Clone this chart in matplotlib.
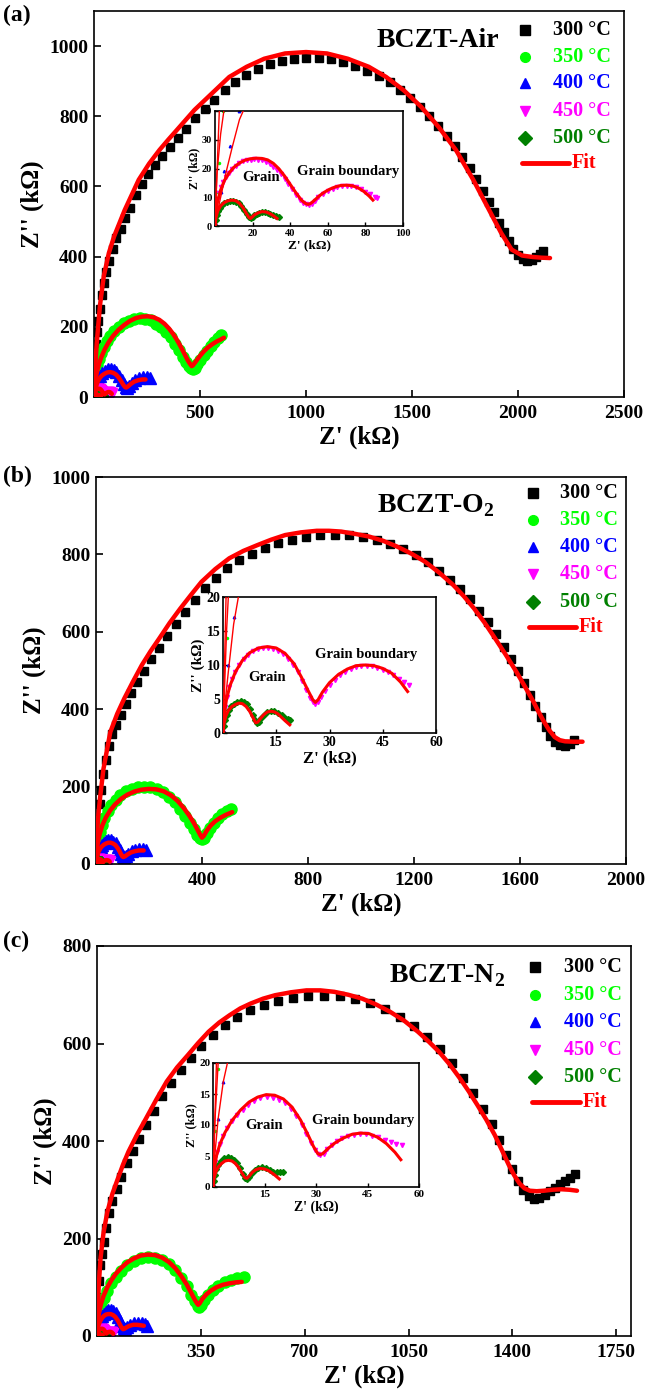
import numpy as np
import matplotlib.pyplot as plt
from matplotlib.lines import Line2D

plt.rcParams['font.family'] = ['Liberation Serif', 'DejaVu Serif']
plt.rcParams['font.weight'] = 'bold'
plt.rcParams['mathtext.fontset'] = 'custom'
plt.rcParams['mathtext.rm'] = 'Liberation Serif:bold'
plt.rcParams['mathtext.bf'] = 'Liberation Serif:bold'
plt.rcParams['axes.linewidth'] = 1.2

temps = ['300 °C', '350 °C', '400 °C', '450 °C', '500 °C']
colors = ['black', '#00ff00', '#0000ff', '#ff00ff', '#008000']
markers = ['s', 'o', '^', 'v', 'D']

# ---------- (a) BCZT-Air : (Z', Z'') in kOhm ----------
a300 = [(0, 0), (2, 55), (5, 110), (9, 150), (14, 185), (20, 218), (27, 250), (36, 290), (46, 325), (58, 355),
        (72, 388), (88, 422), (106, 452), (126, 480), (148, 510), (172, 540), (198, 575), (226, 606), (256, 635),
        (288, 660), (322, 687), (358, 712), (396, 738), (436, 765), (478, 794), (522, 820), (568, 847), (616, 874),
        (666, 898), (718, 918), (772, 935), (828, 948), (886, 958), (944, 964), (1002, 966), (1060, 966),
        (1118, 962), (1176, 955), (1232, 944), (1288, 930), (1342, 915), (1394, 897), (1444, 876), (1492, 852),
        (1538, 826), (1582, 800), (1624, 773), (1664, 744), (1702, 714), (1738, 684), (1772, 652), (1804, 620),
        (1834, 588), (1862, 556), (1888, 526), (1912, 497), (1934, 470), (1956, 445), (1978, 422), (2000, 405),
        (2022, 393), (2044, 387), (2066, 390), (2086, 398), (2104, 407), (2118, 416)]
a300_fit = [(0, 0), (4, 70), (13, 154), (28, 260), (46, 344), (70, 410), (95, 458), (145, 533), (211, 619),
            (260, 665), (309, 704), (350, 733), (391, 761), (474, 818), (556, 865), (638, 912), (720, 941),
            (803, 964), (901, 979), (1000, 983), (1099, 979), (1197, 964), (1296, 941), (1378, 912), (1461, 874),
            (1543, 827), (1625, 770), (1707, 704), (1789, 619), (1855, 543), (1921, 467), (1970, 420),
            (2020, 403), (2069, 399), (2110, 397), (2151, 396)]
a350 = [(0, 0), (1, 12), (2, 22), (4, 40), (7, 58), (11, 75), (16, 92), (23, 108), (33, 125), (45, 142),
        (60, 159), (77, 175), (96, 189), (117, 200), (140, 210), (164, 218), (189, 222), (215, 224), (241, 223),
        (267, 219), (292, 209), (316, 199), (339, 186), (361, 170), (382, 152), (401, 133), (418, 115), (433, 99),
        (446, 88), (457, 82), (466, 80), (476, 84), (488, 94), (502, 106), (518, 119), (535, 132), (552, 145),
        (568, 157), (583, 167), (597, 176)]
a350_fit = [(0, 0), (1, 18), (3, 32), (6, 46), (10, 60), (16, 77), (24, 95), (35, 114), (50, 135), (68, 155),
            (90, 174), (115, 191), (142, 205), (170, 217), (198, 225), (226, 229), (254, 230), (282, 227),
            (308, 220), (332, 209), (354, 195), (373, 180), (390, 164), (405, 148), (418, 133), (430, 119),
            (441, 106), (450, 97), (457, 91), (461, 88), (466, 90), (474, 96), (486, 106), (501, 118), (518, 130),
            (537, 141), (557, 150), (578, 158), (598, 164), (613, 169)]
a400 = [(0, 0), (1, 5), (3, 12), (5, 19), (8, 28), (13, 40), (19, 50), (27, 59), (37, 67), (50, 75), (64, 79),
        (78, 80), (92, 77), (106, 71), (119, 61), (131, 49), (141, 37), (149, 28), (157, 26), (167, 31), (180, 40),
        (195, 48), (212, 54), (230, 57), (248, 57), (265, 54)]
a400_fit = [(0, 0), (1, 4), (3, 10), (6, 19), (9, 27), (13, 37), (19, 46), (27, 54), (37, 61), (49, 66), (62, 70),
            (76, 71), (90, 69), (104, 64), (117, 55), (129, 44), (139, 34), (147, 28), (152, 27), (160, 30),
            (173, 37), (190, 44), (210, 48), (228, 50), (243, 50)]
a450 = [(0, 0), (0.3, 3), (0.7, 6), (1.3, 9), (2, 11.5), (3, 13.5), (4.2, 15.3), (5.6, 17), (7.2, 18.5), (9, 19.8),
        (11, 21), (13, 21.9), (15, 22.5), (17, 22.9), (19, 23.1), (21, 23.2), (23, 23.1), (25, 22.8), (27, 22.3),
        (29, 21.6), (31, 20.6), (33, 19.4), (35, 18), (37, 16.4), (39, 14.6), (41, 12.7), (43, 10.8), (45, 9.2),
        (47, 8), (48.5, 7.5), (50, 7.4), (51.5, 7.8), (53, 8.8), (55, 10), (57.5, 11.3), (60, 12.3), (62.5, 13),
        (65, 13.5), (67.5, 13.8), (70, 13.9), (72.5, 13.8), (75, 13.4), (77.5, 12.8), (80, 12), (82.5, 11.1),
        (85, 10.2), (86, 9.8)]
a450_fit = [(0, 0), (0.5, 5), (1.5, 9), (3, 12.5), (5, 15.8), (7.5, 18.5), (10, 20.4), (13, 21.9), (16, 22.9),
            (19, 23.4), (22, 23.6), (25, 23.5), (28, 23), (31, 21.8), (34, 19.9), (37, 17.4), (40, 14.5),
            (43, 11.6), (46, 9), (48, 7.9), (49.5, 7.5), (51, 7.9), (53, 9), (55.5, 10.5), (58, 11.7), (61, 12.8),
            (64, 13.6), (67, 14.1), (70, 14.2), (73, 14), (76, 13.3), (79, 12.1), (82, 10.4), (84, 9)]
a500 = [(0, 0), (0.3, 2), (0.8, 3.8), (1.5, 5.2), (2.5, 6.4), (3.7, 7.3), (5, 8), (6.5, 8.5), (8, 8.7), (9.5, 8.7),
        (11, 8.5), (12.5, 7.9), (14, 6.9), (15.5, 5.6), (17, 4.1), (18.2, 3.1), (19, 2.8), (20, 3.1), (21, 3.7),
        (22.2, 4.2), (23.5, 4.6), (25, 4.8), (26.5, 4.8), (28, 4.6), (29.5, 4.2), (31, 3.8), (32.5, 3.4), (34, 3.1)]
a500_fit = [(0, 0), (0.5, 3), (1.5, 5.3), (3, 7), (5, 8.2), (7, 8.8), (9, 9), (11, 8.8), (13, 7.9), (15, 6.3),
            (16.8, 4.2), (18, 3), (18.8, 2.6), (19.6, 3), (21, 3.9), (23, 4.6), (25, 5), (27, 4.9), (29, 4.4),
            (31, 3.6), (33, 2.6)]

# ---------- (b) BCZT-O2 ----------
b300 = [(0, 0), (2, 45), (5, 80), (9, 115), (14, 155), (20, 190), (28, 232), (37, 270), (48, 305), (61, 335),
        (76, 360), (93, 385), (112, 414), (133, 442), (156, 471), (181, 500), (208, 529), (237, 558), (268, 590),
        (301, 621), (336, 652), (373, 683), (412, 713), (453, 740), (496, 764), (541, 785), (588, 802), (637, 816),
        (688, 829), (740, 838), (793, 845), (847, 849), (901, 850), (955, 849), (1008, 845), (1060, 838),
        (1111, 826), (1160, 813), (1207, 798), (1252, 780), (1295, 758), (1336, 735), (1375, 710), (1412, 684),
        (1447, 655), (1480, 625), (1511, 594), (1540, 562), (1567, 530), (1592, 498), (1615, 467), (1637, 437),
        (1658, 408), (1678, 380), (1697, 354), (1715, 332), (1733, 315), (1751, 307), (1769, 306), (1787, 311),
        (1803, 320)]
b300_fit = [(0, 0), (3, 70), (8, 120), (15, 169), (28, 245), (54, 341), (80, 388), (107, 428), (140, 472),
            (173, 514), (206, 550), (239, 583), (278, 623), (318, 660), (358, 695), (398, 729), (450, 762),
            (503, 790), (556, 809), (609, 824), (661, 838), (714, 850), (774, 857), (833, 861), (879, 861),
            (925, 859), (978, 853), (1031, 846), (1084, 835), (1137, 820), (1190, 802), (1242, 781), (1295, 753),
            (1348, 721), (1388, 692), (1427, 660), (1467, 623), (1506, 583), (1546, 541), (1586, 497), (1619, 458),
            (1651, 419), (1671, 392), (1691, 367), (1711, 345), (1731, 328), (1750, 320), (1770, 317), (1803, 316),
            (1836, 316)]
b350 = [(0, 0), (1, 14), (2, 26), (4, 42), (8, 62), (14, 82), (22, 102), (32, 120), (44, 137), (58, 152),
        (74, 166), (92, 178), (112, 188), (134, 195), (157, 199), (181, 200), (205, 199), (229, 194), (253, 186),
        (276, 174), (298, 159), (318, 142), (337, 124), (354, 106), (369, 90), (382, 76), (392, 67), (400, 64),
        (408, 68), (418, 80), (430, 94), (444, 107), (460, 118), (477, 128), (494, 136), (510, 143)]
b350_fit = [(0, 0), (1, 15), (3, 35), (7, 55), (14, 78), (24, 100), (37, 120), (53, 138), (72, 154), (94, 168),
            (118, 179), (144, 187), (171, 192), (199, 194), (227, 193), (255, 188), (282, 178), (308, 163),
            (332, 144), (353, 124), (371, 104), (385, 86), (395, 73), (400, 68), (407, 73), (418, 86), (432, 99),
            (449, 110), (468, 119), (490, 127), (514, 134)]
b400 = [(0, 0), (0.5, 4), (1.5, 10), (3, 17), (5, 24), (8, 31), (12, 38), (17, 44), (23, 50), (30, 55), (38, 59),
        (47, 61), (56, 61), (65, 58), (74, 53), (82, 45), (89, 36), (95, 27), (100, 20), (105, 17), (112, 20),
        (122, 27), (134, 33), (148, 37), (163, 40), (178, 40), (190, 37)]
b400_fit = [(0, 0), (0.5, 4), (1.5, 9), (3, 16), (5, 22), (8, 29), (12, 35), (17, 41), (23, 46), (30, 50),
            (38, 53), (46, 55), (55, 55), (64, 53), (73, 49), (81, 42), (88, 34), (94, 26), (99, 20), (103, 18),
            (110, 20), (120, 25), (132, 30), (146, 33), (162, 35), (180, 35)]
b450 = [(0, 0), (0.2, 2), (0.5, 3.8), (1, 5.3), (1.7, 6.7), (2.5, 7.9), (3.5, 9), (4.6, 10), (5.8, 10.9), (7, 11.5),
        (8.4, 12), (9.8, 12.3), (11.2, 12.5), (12.6, 12.5), (14, 12.4), (15.4, 12.1), (16.8, 11.6), (18.2, 10.9),
        (19.6, 10), (21, 8.9), (22.3, 7.6), (23.5, 6.3), (24.5, 5.2), (25.3, 4.6), (26, 4.3), (26.8, 4.5),
        (27.7, 5.3), (28.8, 6.2), (30, 7), (31.5, 7.8), (33, 8.5), (34.5, 9), (36, 9.4), (37.5, 9.7), (39, 9.8),
        (40.5, 9.9), (42, 9.8), (43.5, 9.6), (45, 9.3), (46.5, 9), (48, 8.5), (49.5, 8), (51, 7.5), (52.5, 7.1)]
b450_fit = [(0, 0), (0.3, 2.5), (1, 5), (2, 7), (3.5, 9), (5.5, 10.7), (7.5, 11.8), (10, 12.5), (12.5, 12.7),
            (15, 12.5), (17.5, 11.7), (20, 10.2), (22, 8.3), (24, 6.2), (25.3, 4.9), (26, 4.5), (26.8, 4.9),
            (28, 6), (30, 7.4), (32.5, 8.6), (35, 9.4), (37.5, 9.9), (40, 10), (42.5, 9.9), (45, 9.5), (47.5, 8.8),
            (50, 7.5), (52, 6.1)]
b500 = [(0, 0), (0.2, 1), (0.5, 1.9), (1, 2.7), (1.6, 3.4), (2.3, 3.9), (3.1, 4.3), (4, 4.6), (5, 4.7), (6, 4.6),
        (6.9, 4.3), (7.7, 3.6), (8.4, 2.7), (9, 1.9), (9.5, 1.5), (10.1, 1.6), (10.8, 2.2), (11.6, 2.7),
        (12.5, 3.1), (13.5, 3.2), (14.5, 3.2), (15.5, 3), (16.5, 2.6), (17.5, 2.2), (18.3, 2), (19, 1.9)]
b500_fit = [(0, 0), (0.3, 1.5), (0.8, 2.5), (1.5, 3.3), (2.5, 3.9), (3.5, 4.2), (4.5, 4.4), (5.5, 4.3), (6.5, 3.9),
            (7.5, 3.2), (8.5, 2.2), (9.2, 1.5), (9.8, 1.6), (10.5, 2.1), (11.5, 2.7), (12.5, 3.1), (13.5, 3.2),
            (14.5, 3.1), (15.5, 2.8), (16.5, 2.3), (17.5, 1.8), (18.8, 1.2)]

# ---------- (c) BCZT-N2 ----------
c300 = [(0, 0), (2, 45), (4, 80), (7, 112), (11, 145), (16, 168), (22, 193), (30, 222), (40, 252), (52, 276),
        (66, 301), (82, 327), (100, 355), (120, 380), (142, 405), (166, 433), (192, 461), (220, 492), (250, 519),
        (282, 545), (316, 570), (352, 594), (390, 617), (430, 637), (472, 654), (516, 668), (562, 679), (610, 688),
        (660, 694), (712, 697), (765, 698), (818, 697), (870, 692), (921, 683), (971, 671), (1020, 655),
        (1067, 636), (1112, 613), (1155, 588), (1196, 560), (1234, 530), (1269, 498), (1301, 465), (1330, 434),
        (1356, 403), (1379, 372), (1400, 343), (1419, 318), (1437, 300), (1455, 288), (1473, 282), (1491, 283),
        (1509, 290), (1527, 297), (1545, 304), (1562, 311), (1578, 318), (1594, 325), (1610, 332)]
c300_fit = [(0, 0), (3, 60), (6, 105), (12, 160), (22, 212), (35, 255), (52, 292), (71, 324), (88, 352),
            (106, 378), (135, 413), (165, 446), (200, 485), (235, 522), (270, 551), (306, 576), (341, 601),
            (376, 624), (412, 643), (447, 658), (483, 672), (518, 682), (560, 692), (600, 699), (653, 705),
            (706, 709), (753, 709), (800, 706), (847, 700), (894, 692), (941, 680), (988, 665), (1035, 647),
            (1082, 624), (1118, 604), (1153, 583), (1189, 557), (1224, 528), (1253, 502), (1282, 474), (1312, 444),
            (1341, 412), (1365, 381), (1388, 351), (1406, 330), (1424, 313), (1441, 303), (1459, 298), (1482, 297),
            (1506, 298), (1535, 300), (1565, 301), (1592, 300), (1618, 298)]
c350 = [(0, 0), (0.5, 9), (1.5, 19), (3.5, 31), (7, 45), (13, 61), (22, 77), (34, 93), (48, 108), (64, 122),
        (82, 134), (102, 145), (124, 154), (147, 160), (171, 162), (195, 161), (219, 156), (242, 147), (264, 135),
        (284, 119), (302, 102), (318, 85), (331, 71), (340, 62), (345, 59), (351, 63), (361, 73), (374, 84),
        (390, 94), (409, 103), (430, 110), (451, 115), (473, 119), (494, 122)]
c350_fit = [(0, 0), (0.5, 10), (1.5, 20), (3.5, 33), (7, 48), (13, 65), (22, 82), (34, 99), (48, 114), (64, 128),
            (82, 140), (102, 151), (124, 159), (147, 165), (171, 167), (195, 166), (219, 161), (242, 152),
            (264, 139), (284, 123), (302, 106), (317, 89), (329, 75), (337, 67), (341, 64), (346, 67), (355, 76),
            (368, 85), (384, 93), (403, 100), (424, 105), (446, 108), (468, 110), (488, 111)]
c400 = [(0, 0), (0.5, 5), (1.5, 11), (3, 17), (5, 23), (8, 29), (12, 35), (17, 41), (23, 46), (30, 50), (38, 53),
        (46, 54), (55, 52), (64, 47), (72, 39), (79, 30), (85, 21), (90, 16), (95, 15), (102, 18), (112, 23),
        (124, 26), (137, 27), (150, 26), (162, 24), (170, 21)]
c400_fit = [(0, 0), (0.5, 5), (1.5, 11), (3, 17), (5, 22), (8, 27), (12, 32), (17, 37), (23, 41), (30, 44),
            (38, 45), (46, 45), (54, 43), (62, 39), (70, 32), (77, 24), (83, 17), (88, 14), (93, 15), (100, 18),
            (110, 21), (122, 23), (135, 23), (147, 22), (158, 21)]
c450 = [(0, 0), (0.2, 2), (0.6, 4), (1.2, 5.6), (2, 7), (3, 8.3), (4.2, 9.5), (5.5, 10.6), (7, 11.6), (8.6, 12.5),
        (10.3, 13.3), (12, 13.9), (13.8, 14.3), (15.6, 14.5), (17.4, 14.4), (19.2, 14.1), (21, 13.5), (22.7, 12.6),
        (24.3, 11.4), (25.8, 10), (27.2, 8.5), (28.5, 7.1), (29.6, 6), (30.5, 5.3), (31.3, 5.1), (32.2, 5.4),
        (33.3, 6.1), (34.6, 6.8), (36, 7.4), (37.6, 7.9), (39.3, 8.2), (41, 8.4), (42.8, 8.5), (44.6, 8.5),
        (46.4, 8.3), (48.2, 8), (50, 7.6), (51.7, 7.2), (53.3, 6.9), (55, 6.8)]
c450_fit = [(0, 0), (0.3, 2.5), (1, 5), (2, 6.9), (3.5, 8.8), (5.5, 10.7), (8, 12.4), (10.5, 13.7), (13, 14.5),
            (15.5, 14.9), (18, 14.8), (20.5, 14.2), (23, 12.9), (25.5, 10.8), (27.5, 8.6), (29.3, 6.5), (30.5, 5.4),
            (31.2, 5.2), (32, 5.4), (33.5, 6.2), (35.5, 7.1), (38, 7.9), (40.5, 8.5), (43, 8.7), (45.5, 8.6),
            (48, 8), (50.5, 7), (53, 5.6), (54.7, 4.4)]
c500 = [(0, 0), (0.2, 1), (0.5, 2), (1, 2.9), (1.6, 3.6), (2.4, 4.2), (3.3, 4.6), (4.3, 4.8), (5.3, 4.7), (6.2, 4.4),
        (7.1, 3.8), (7.9, 3), (8.6, 2.1), (9.2, 1.5), (9.8, 1.3), (10.5, 1.6), (11.3, 2.2), (12.2, 2.7),
        (13.2, 3.1), (14.3, 3.2), (15.4, 3.1), (16.5, 2.8), (17.6, 2.5), (18.6, 2.4), (19.5, 2.4), (20.4, 2.5)]
c500_fit = [(0, 0), (0.3, 1.4), (0.8, 2.4), (1.5, 3.2), (2.5, 3.8), (3.5, 4.2), (4.5, 4.3), (5.5, 4.2), (6.5, 3.8),
            (7.5, 3.1), (8.5, 2.2), (9.3, 1.5), (9.9, 1.4), (10.6, 1.8), (11.5, 2.4), (12.5, 2.8), (13.7, 3),
            (15, 2.9), (16.3, 2.6), (17.6, 2.1), (19.3, 1.3)]

W, H = 654, 1389


def box(x0, y0, x1, y1):
    # pixel box (top-left origin) -> figure fraction
    return [x0 / W, 1 - y1 / H, (x1 - x0) / W, (y1 - y0) / H]


panels = [
    dict(tag='(a)', name='BCZT-Air', data=[a300, a350, a400, a450, a500],
         fits=[a300_fit, a350_fit, a400_fit, a450_fit, a500_fit],
         main=(94, 11, 624, 397), xlim=2500, ylim=1100,
         xticks=[500, 1000, 1500, 2000, 2500], yticks=[0, 200, 400, 600, 800, 1000],
         inset=(215, 111, 403, 226), ixlim=100, iylim=40,
         ixticks=[20, 40, 60, 80, 100], iyticks=[0, 10, 20, 30, 40], ifs=(7.5, 9.5),
         grain=(24.3, 17), gb=(71, 19),
         leg_mx=525, leg_tx=553, leg_fit=(522, 569, 572), leg_rows=[30, 56.7, 83.3, 111, 138.3, 162.7],
         name_xy=(377, 47), tag_y=5),
    dict(tag='(b)', name='BCZT-O$_\\mathbf{2}$', data=[b300, b350, b400, b450, b500],
         fits=[b300_fit, b350_fit, b400_fit, b450_fit, b500_fit],
         main=(96, 477, 626, 864), xlim=2000, ylim=1000,
         xticks=[400, 800, 1200, 1600, 2000], yticks=[0, 200, 400, 600, 800, 1000],
         inset=(223, 597, 436, 733), ixlim=60, iylim=20,
         ixticks=[15, 30, 45, 60], iyticks=[0, 5, 10, 15, 20], ifs=(10, 12),
         grain=(12.3, 8.1), gb=(40.3, 11.6),
         leg_mx=533, leg_tx=560, leg_fit=(529, 576, 579), leg_rows=[493, 520, 547, 574, 602, 627],
         name_xy=(377, 512), tag_y=466),
    dict(tag='(c)', name='BCZT-N$_\\mathbf{2}$', data=[c300, c350, c400, c450, c500],
         fits=[c300_fit, c350_fit, c400_fit, c450_fit, c500_fit],
         main=(97, 946, 631, 1336), xlim=1800, ylim=800,
         xticks=[350, 700, 1050, 1400, 1750], yticks=[0, 200, 400, 600, 800],
         inset=(213, 1063, 419, 1187), ixlim=60, iylim=20,
         ixticks=[15, 30, 45, 60], iyticks=[0, 5, 10, 15, 20], ifs=(8, 10),
         grain=(15, 9.9), gb=(43.8, 10.75),
         leg_mx=535, leg_tx=564, leg_fit=(532, 580, 583), leg_rows=[967, 995, 1022, 1050, 1077, 1102],
         name_xy=(389, 982), tag_y=931),
]

main_ms = [6.3, 8, 8, 7.5, 7]
inset_ms = [1.5, 1.5, 1.8, 3, 3]
inset_lw = [1.0, 1.0, 1.0, 2.2, 2.2]

fig = plt.figure(figsize=(W / 100, H / 100), dpi=100)

for p in panels:
    ax = fig.add_axes(box(*p['main']))
    for k, d in enumerate(p['data']):
        x, y = np.array(d).T
        ax.plot(x, y, ls='none', marker=markers[k], ms=main_ms[k], color=colors[k], mec=colors[k], zorder=2)
    for f in p['fits']:
        fx, fy = np.array(f).T
        ax.plot(fx, fy, color='red', lw=3.2, solid_capstyle='round', solid_joinstyle='round', zorder=3)
    ax.set_xlim(0, p['xlim'])
    ax.set_ylim(0, p['ylim'])
    ax.set_xticks(p['xticks'])
    ax.set_yticks(p['yticks'])
    ax.tick_params(direction='in', length=5, width=1.2, labelsize=14)
    ax.tick_params(axis='x', pad=6)
    ax.tick_params(axis='y', pad=4)
    ax.set_xlabel("Z' (kΩ)", fontsize=18, fontweight='bold', labelpad=2)
    ax.set_ylabel("Z'' (kΩ)", fontsize=18, fontweight='bold', labelpad=4)

    # inset zoom on the high temperature arcs
    ins = fig.add_axes(box(*p['inset']))
    ins.set_facecolor('white')
    for k, d in enumerate(p['data']):
        x, y = np.array(d).T
        ins.plot(x, y, ls='none', marker=markers[k], ms=inset_ms[k], color=colors[k], mec=colors[k], zorder=2)
    for k, f in enumerate(p['fits']):
        fx, fy = np.array(f).T
        ins.plot(fx, fy, color='red', lw=inset_lw[k], zorder=3)
    ins.set_xlim(0, p['ixlim'])
    ins.set_ylim(0, p['iylim'])
    ins.set_xticks(p['ixticks'])
    ins.set_yticks(p['iyticks'])
    ins.tick_params(direction='in', length=3, width=1.0, labelsize=p['ifs'][0], pad=2)
    ins.set_xlabel("Z' (kΩ)", fontsize=p['ifs'][1], fontweight='bold', labelpad=1)
    ins.set_ylabel("Z'' (kΩ)", fontsize=p['ifs'][1] - 1, fontweight='bold', labelpad=1)
    ins.text(*p['grain'], 'Grain', fontsize=10.5, fontweight='bold', ha='center', va='center')
    ins.text(*p['gb'], 'Grain boundary', fontsize=10.5, fontweight='bold', ha='center', va='center')

    # legend drawn in figure pixels
    rows = p['leg_rows']
    for k in range(5):
        fig.add_artist(Line2D([p['leg_mx'] / W], [1 - rows[k] / H], ls='none', marker=markers[k],
                              ms=7, color=colors[k], transform=fig.transFigure))
        fig.text(p['leg_tx'] / W, 1 - rows[k] / H, temps[k], color=colors[k], fontsize=14.5,
                 fontweight='bold', ha='left', va='center')
    fx0, fx1, ftx = p['leg_fit']
    fig.add_artist(Line2D([fx0 / W, fx1 / W], [1 - rows[5] / H] * 2, color='red', lw=3.5,
                          solid_capstyle='round', transform=fig.transFigure))
    fig.text(ftx / W, 1 - rows[5] / H, 'Fit', color='red', fontsize=14.5, fontweight='bold',
             ha='left', va='center')

    fig.text(p['name_xy'][0] / W, 1 - p['name_xy'][1] / H, p['name'], fontsize=20, fontweight='bold',
             ha='left', va='baseline')
    fig.text(3 / W, 1 - p['tag_y'] / H, p['tag'], fontsize=17, fontweight='bold', ha='left', va='top')

fig.savefig('out.png', dpi=100)
